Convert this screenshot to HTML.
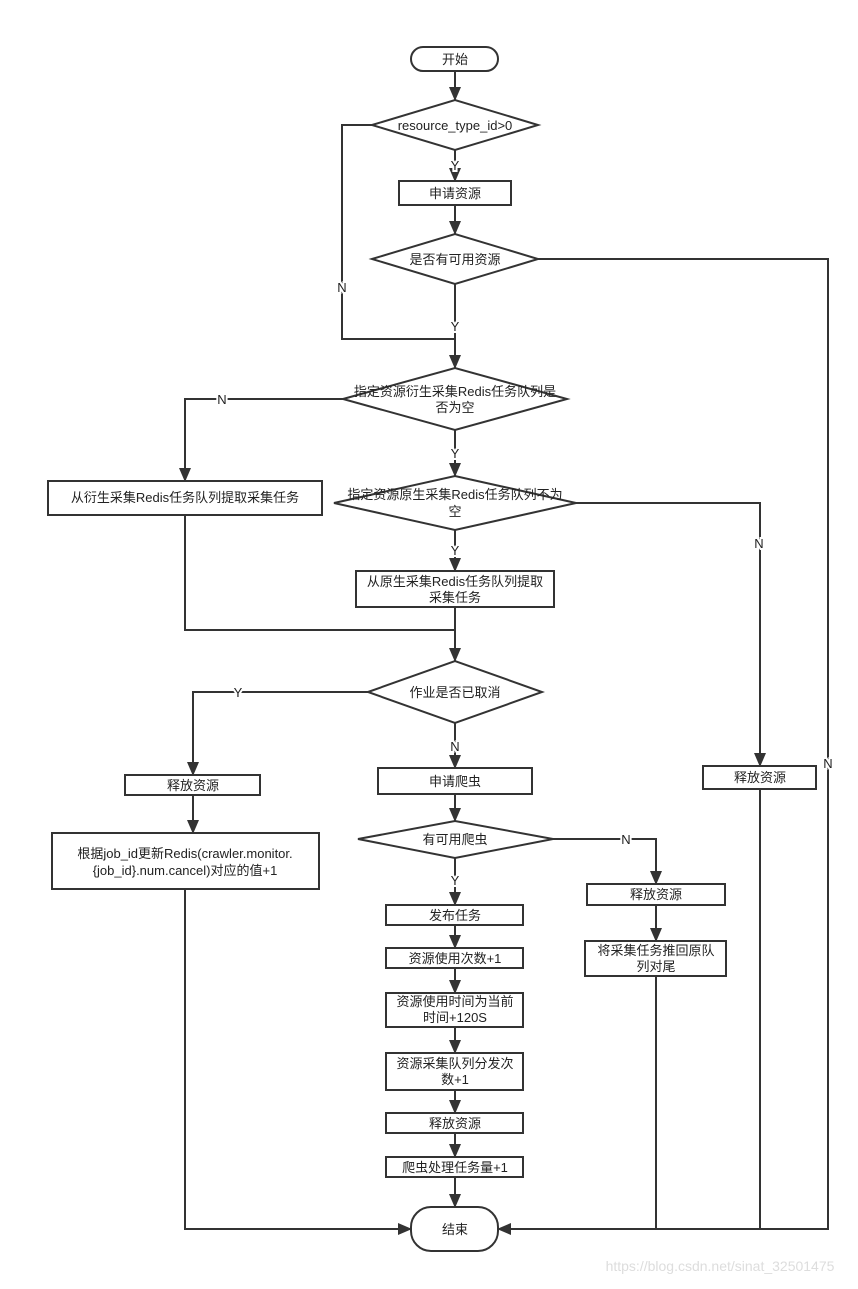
<!DOCTYPE html>
<html><head><meta charset="utf-8"><style>
body{margin:0;background:#fff}
svg text{font-family:"Liberation Sans","Noto Sans CJK SC",sans-serif;font-size:13px;fill:#222}
</style></head><body>
<svg width="858" height="1284" viewBox="0 0 858 1284" xmlns="http://www.w3.org/2000/svg">
<defs><marker id="a" markerWidth="14" markerHeight="12" refX="13" refY="6" orient="auto" markerUnits="userSpaceOnUse"><path d="M0,0 L14,6 L0,12 z" fill="#333"/></marker></defs>
<g fill="none" stroke="#333" stroke-width="2">
<line x1="455" y1="71" x2="455" y2="100" marker-end="url(#a)"/>
<line x1="455" y1="150" x2="455" y2="181" marker-end="url(#a)"/>
<line x1="455" y1="205" x2="455" y2="234" marker-end="url(#a)"/>
<polyline points="372,125 342,125 342,339 455,339"/>
<line x1="455" y1="284" x2="455" y2="368" marker-end="url(#a)"/>
<polyline points="538,259 828,259 828,1229 498,1229" marker-end="url(#a)"/>
<polyline points="343,399 185,399 185,481" marker-end="url(#a)"/>
<line x1="455" y1="430" x2="455" y2="476" marker-end="url(#a)"/>
<polyline points="576,503 760,503 760,766" marker-end="url(#a)"/>
<line x1="455" y1="530" x2="455" y2="571" marker-end="url(#a)"/>
<polyline points="185,515 185,630 455,630"/>
<line x1="455" y1="607" x2="455" y2="661" marker-end="url(#a)"/>
<polyline points="368,692 193,692 193,775" marker-end="url(#a)"/>
<line x1="193" y1="795" x2="193" y2="833" marker-end="url(#a)"/>
<polyline points="185,889 185,1229 411,1229" marker-end="url(#a)"/>
<line x1="455" y1="723" x2="455" y2="768" marker-end="url(#a)"/>
<line x1="455" y1="794" x2="455" y2="821" marker-end="url(#a)"/>
<polyline points="553,839 656,839 656,884" marker-end="url(#a)"/>
<line x1="656" y1="905" x2="656" y2="941" marker-end="url(#a)"/>
<polyline points="656,976 656,1229"/>
<polyline points="760,789 760,1229"/>
<line x1="455" y1="858" x2="455" y2="905" marker-end="url(#a)"/>
<line x1="455" y1="925" x2="455" y2="948" marker-end="url(#a)"/>
<line x1="455" y1="968" x2="455" y2="993" marker-end="url(#a)"/>
<line x1="455" y1="1027" x2="455" y2="1053" marker-end="url(#a)"/>
<line x1="455" y1="1090" x2="455" y2="1113" marker-end="url(#a)"/>
<line x1="455" y1="1133" x2="455" y2="1157" marker-end="url(#a)"/>
<line x1="455" y1="1177" x2="455" y2="1207" marker-end="url(#a)"/>
</g>
<g fill="#fff" stroke="#333" stroke-width="2">
<rect x="411" y="47" width="87" height="24" rx="12"/>
<polygon points="372,125 455,100 538,125 455,150"/>
<rect x="399" y="181" width="112" height="24"/>
<polygon points="372,259 455,234 538,259 455,284"/>
<polygon points="343,399 455,368 567,399 455,430"/>
<rect x="48" y="481" width="274" height="34"/>
<polygon points="334,503 455,476 576,503 455,530"/>
<rect x="356" y="571" width="198" height="36"/>
<polygon points="368,692 455,661 542,692 455,723"/>
<rect x="125" y="775" width="135" height="20"/>
<rect x="52" y="833" width="267" height="56"/>
<rect x="378" y="768" width="154" height="26"/>
<polygon points="358,839 455,821 553,839 455,858"/>
<rect x="587" y="884" width="138" height="21"/>
<rect x="585" y="941" width="141" height="35"/>
<rect x="703" y="766" width="113" height="23"/>
<rect x="386" y="905" width="137" height="20"/>
<rect x="386" y="948" width="137" height="20"/>
<rect x="386" y="993" width="137" height="34"/>
<rect x="386" y="1053" width="137" height="37"/>
<rect x="386" y="1113" width="137" height="20"/>
<rect x="386" y="1157" width="137" height="20"/>
<rect x="411" y="1207" width="87" height="44" rx="20"/>
</g>
<g text-anchor="middle">
<text x="455" y="64">开始</text>
<text x="455" y="130">resource_type_id&gt;0</text>
<text x="455" y="198">申请资源</text>
<text x="455" y="264">是否有可用资源</text>
<text x="455" y="396">指定资源衍生采集Redis任务队列是</text>
<text x="455" y="412">否为空</text>
<text x="185" y="502">从衍生采集Redis任务队列提取采集任务</text>
<text x="455" y="499">指定资源原生采集Redis任务队列不为</text>
<text x="455" y="516">空</text>
<text x="455" y="586">从原生采集Redis任务队列提取</text>
<text x="455" y="602">采集任务</text>
<text x="455" y="697">作业是否已取消</text>
<text x="193" y="790">释放资源</text>
<text x="185" y="858">根据job_id更新Redis(crawler.monitor.</text>
<text x="185" y="875">{job_id}.num.cancel)对应的值+1</text>
<text x="455" y="786">申请爬虫</text>
<text x="455" y="844">有可用爬虫</text>
<text x="656" y="899">释放资源</text>
<text x="656" y="955">将采集任务推回原队</text>
<text x="656" y="971">列对尾</text>
<text x="760" y="782">释放资源</text>
<text x="455" y="920">发布任务</text>
<text x="455" y="963">资源使用次数+1</text>
<text x="455" y="1006">资源使用时间为当前</text>
<text x="455" y="1022">时间+120S</text>
<text x="455" y="1068">资源采集队列分发次</text>
<text x="455" y="1084">数+1</text>
<text x="455" y="1128">释放资源</text>
<text x="455" y="1172">爬虫处理任务量+1</text>
<text x="455" y="1234">结束</text>
</g>
<g text-anchor="middle" style="paint-order:stroke" stroke="#fff" stroke-width="4">
<text x="455" y="170">Y</text>
<text x="342" y="292">N</text>
<text x="455" y="331">Y</text>
<text x="222" y="404">N</text>
<text x="455" y="458">Y</text>
<text x="759" y="548">N</text>
<text x="455" y="555">Y</text>
<text x="238" y="697">Y</text>
<text x="455" y="751">N</text>
<text x="626" y="844">N</text>
<text x="455" y="885">Y</text>
<text x="828" y="768">N</text>
</g>
<text x="720" y="1271" text-anchor="middle" style="font-size:14px;fill:#ddd">https://blog.csdn.net/sinat_32501475</text>
</svg>
</body></html>
